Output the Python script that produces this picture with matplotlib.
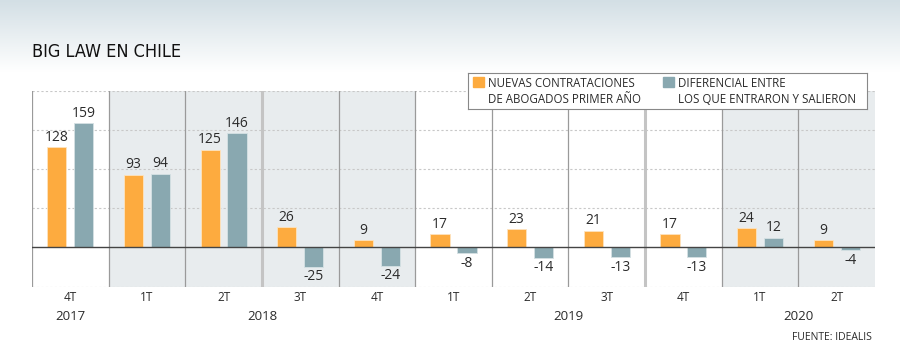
import numpy as np
import matplotlib.pyplot as plt
from matplotlib.patches import Rectangle
from matplotlib.colors import LinearSegmentedColormap

# data
quarters = ['4T', '1T', '2T', '3T', '4T', '1T', '2T', '3T', '4T', '1T', '2T']
years = ['2017', '2018', '2019', '2020']
year_pos = [0, 2.5, 6.5, 9.5]
nuevas = [128, 93, 125, 26, 9, 17, 23, 21, 17, 24, 9]
diferencial = [159, 94, 146, -25, -24, -8, -14, -13, -13, 12, -4]
shaded = [False, True, True, True, True, False, False, False, False, True, True]

orange = '#fdab3f'
teal = '#89a8b0'
txt = '#2b2b2b'

plt.rcParams['font.family'] = ['Open Sans', 'DejaVu Sans']

fig = plt.figure(figsize=(9, 3.62), dpi=100)

# header gradient
bg = fig.add_axes([0, 0, 1, 1], zorder=-10)
bg.set_axis_off()
grad = np.linspace(0, 1, 256).reshape(-1, 1)
cm = LinearSegmentedColormap.from_list('g', ['#ffffff', '#d3dfe5'])
bg.imshow(grad, extent=[0, 1, 1 - 72 / 362, 1], aspect='auto', cmap=cm, origin='lower')
bg.set_xlim(0, 1)
bg.set_ylim(0, 1)

fig.text(32 / 900, 1 - 52 / 362, 'BIG LAW EN CHILE', fontsize=13, color='#111111',
         family='DejaVu Sans', fontstretch='condensed', va='center', ha='left')

ax = fig.add_axes([32 / 900, 75 / 362, (875 - 32) / 900, (287 - 91) / 362])
n = len(quarters)
x = np.arange(n)
ax.set_xlim(-0.5, n - 0.5)
ax.set_ylim(-51, 200)

for i, s in enumerate(shaded):
    if s:
        ax.add_patch(Rectangle((i - 0.5, -51), 1, 251, color='#e8ecee', zorder=0, lw=0))

for y in [50, 100, 150, 200]:
    ax.axhline(y, color='#c8c8c8', lw=0.8, ls=(0, (2, 2)), zorder=1)
ax.axhline(-51, color='#c8c8c8', lw=0.8, ls=(0, (2, 2)), zorder=1)

for b in np.arange(0.5, n - 1, 1):
    if b in (2.5, 7.5):
        ax.axvline(b, color='#c4c4c4', lw=2.2, zorder=1)
    else:
        ax.axvline(b, color='#9a9a9a', lw=0.9, zorder=1)
ax.axvline(-0.5, color='#9a9a9a', lw=0.9, zorder=1)

w = 0.25
off = 0.176
ax.bar(x - off, nuevas, w, color=orange, edgecolor='#fde3bf', lw=0.6, zorder=3)
ax.bar(x + off, diferencial, w, color=teal, edgecolor='#d5e1e4', lw=0.6, zorder=3)
ax.axhline(0, color='#444444', lw=1.0, zorder=4)

for i in range(n):
    for v, dx in ((nuevas[i], -off), (diferencial[i], off)):
        if v >= 0:
            ax.text(i + dx, v + 3, str(v), ha='center', va='bottom', fontsize=10, color=txt, zorder=5)
        else:
            ax.text(i + dx, v - 3, str(v), ha='center', va='top', fontsize=10, color=txt, zorder=5)

for s in ax.spines.values():
    s.set_visible(False)
ax.set_yticks([])
ax.set_xticks(x)
ax.set_xticklabels(quarters, fontsize=8.5, color=txt)
ax.tick_params(axis='x', length=0, pad=3)

for yr, p in zip(years, year_pos):
    ax.text(p, -0.153, yr, transform=ax.get_xaxis_transform(), ha='center', va='center',
            fontsize=9.5, color=txt)

fig.text(872 / 900, 1 - 337 / 362, 'FUENTE: IDEALIS', ha='right', va='center', fontsize=7.5, color=txt)

# legend box
lg = fig.add_axes([468 / 900, 1 - 109 / 362, (867 - 468) / 900, 36 / 362], zorder=10)
lg.set_xlim(0, 399)
lg.set_ylim(36, 0)
lg.set_xticks([])
lg.set_yticks([])
lg.set_facecolor('white')
for s in lg.spines.values():
    s.set_color('#888888')
    s.set_linewidth(0.8)
lg.add_patch(Rectangle((5, 4), 11, 10, color=orange))
lg.add_patch(Rectangle((195, 4), 11, 10, color=teal))
lg.text(20, 10, 'NUEVAS CONTRATACIONES', va='center', fontsize=8.3, color=txt)
lg.text(20, 26, 'DE ABOGADOS PRIMER AÑO', va='center', fontsize=8.3, color=txt)
lg.text(210, 10, 'DIFERENCIAL ENTRE', va='center', fontsize=8.3, color=txt)
lg.text(210, 26, 'LOS QUE ENTRARON Y SALIERON', va='center', fontsize=8.3, color=txt)

fig.savefig('out.png', dpi=100)
